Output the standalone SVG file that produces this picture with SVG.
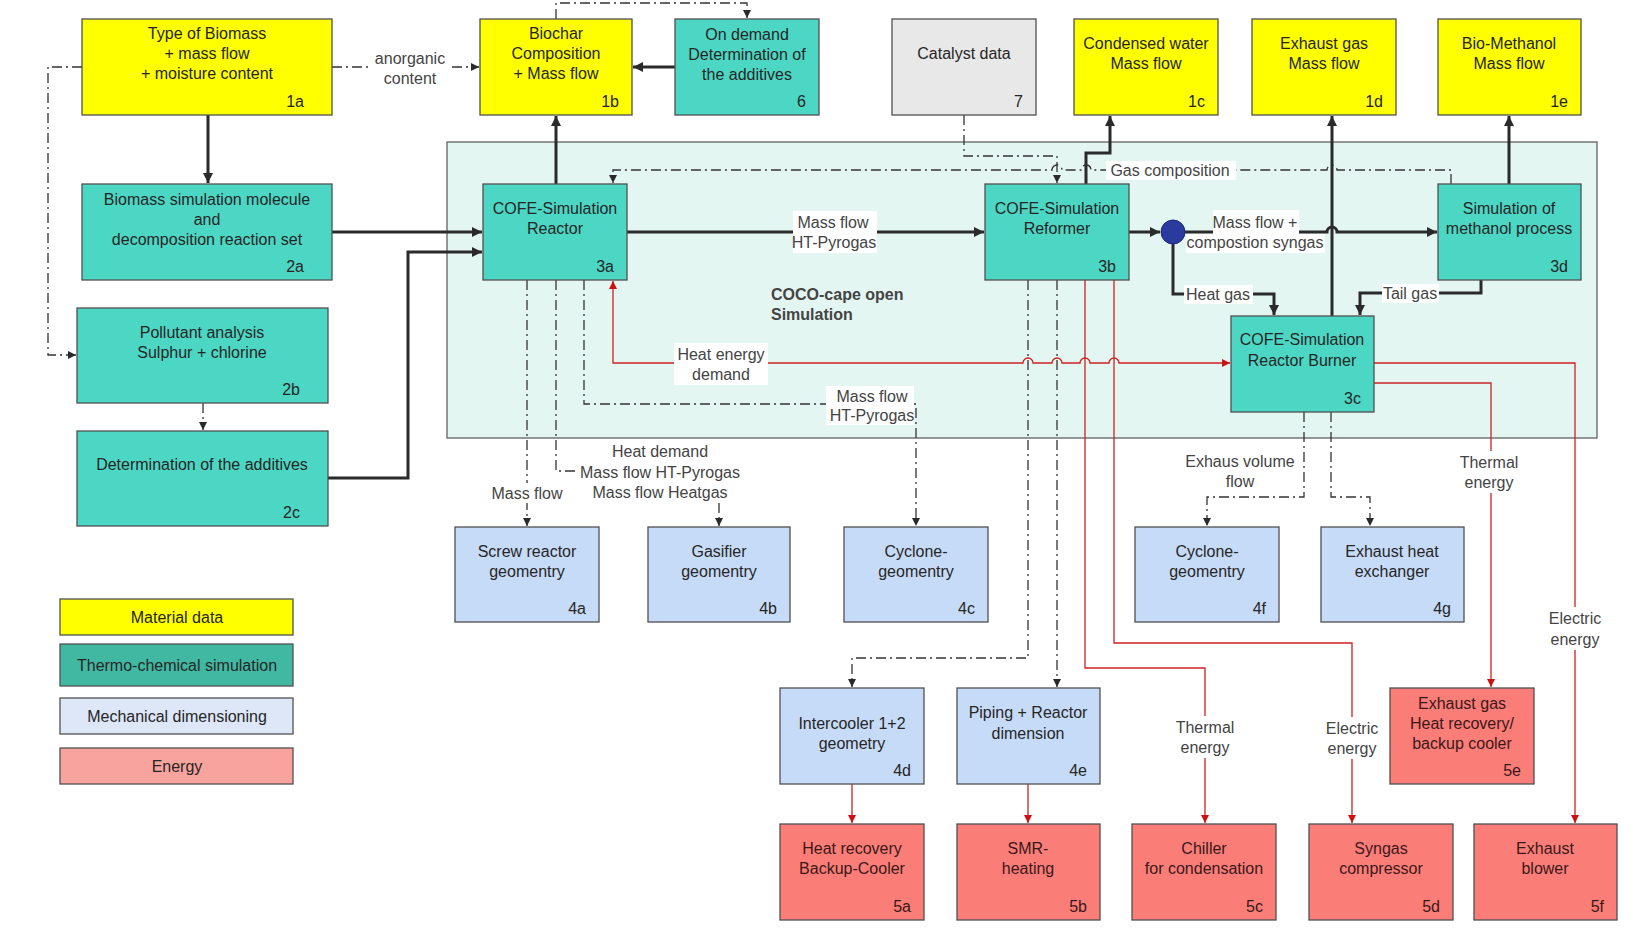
<svg xmlns="http://www.w3.org/2000/svg" width="1650" height="951" viewBox="0 0 1650 951">
<defs>
<style>
.n rect{stroke:#505050;stroke-width:1.3}
.y{fill:#ffff00}.t{fill:#4cd6c4}.b{fill:#c6dbf7}.r{fill:#fa7d78}.g{fill:#e8e8e8}
text{font-family:"Liberation Sans",Arial,sans-serif;font-size:16px}
.n text{fill:#262626;text-anchor:middle}
.n text.num{text-anchor:end}
.rn text{fill:#3a1818}
.lb text{fill:#444;text-anchor:middle}
.lb rect{fill:#fff}
.th{fill:none;stroke:#2a2a2a;stroke-width:3}
.dd{fill:none;stroke:#333;stroke-width:1.3;stroke-dasharray:10 4 2 4}
.rd{fill:none;stroke:#cc2222;stroke-width:1.3}
</style>
<marker id="at" viewBox="0 0 10 10" refX="10" refY="5" markerWidth="11" markerHeight="10" markerUnits="userSpaceOnUse" orient="auto"><path d="M0,0 L10,5 L0,10 z" fill="#2a2a2a"/></marker>
<marker id="ad" viewBox="0 0 10 10" refX="10" refY="5" markerWidth="8" markerHeight="8" markerUnits="userSpaceOnUse" orient="auto"><path d="M0,0 L10,5 L0,10 z" fill="#2a2a2a"/></marker>
<marker id="ar" viewBox="0 0 10 10" refX="10" refY="5" markerWidth="9" markerHeight="8" markerUnits="userSpaceOnUse" orient="auto-start-reverse"><path d="M0,0 L10,5 L0,10 z" fill="#cc1111"/></marker>
</defs>
<rect x="0" y="0" width="1650" height="951" fill="#fff"/>
<g id="container">
<rect x="447" y="142" width="1150" height="296" fill="#e4f6f2" stroke="#555" stroke-width="1.2"/>
<text x="771" y="300" font-weight="bold" fill="#444">COCO-cape open</text>
<text x="771" y="320" font-weight="bold" fill="#444">Simulation</text>
</g>
<g id="connectors">
<path class="th" d="M208,115 V183" marker-end="url(#at)"/>
<path class="th" d="M332,232 H482" marker-end="url(#at)"/>
<path class="th" d="M328,478 H408 V252 H482" marker-end="url(#at)"/>
<path class="th" d="M556,184 V116" marker-end="url(#at)"/>
<path class="th" d="M675,67 H633" marker-end="url(#at)"/>
<path class="th" d="M627,232 H984" marker-end="url(#at)"/>
<path class="th" d="M1129,232 H1160" marker-end="url(#at)"/>
<path class="th" d="M1185,232 H1327 A5,5 0 0 1 1337,232 H1437" marker-end="url(#at)"/>
<path class="th" d="M1086,184 V153 H1110 V116" marker-end="url(#at)"/>
<path class="th" d="M1332,316 V116" marker-end="url(#at)"/>
<path class="th" d="M1509,184 V116" marker-end="url(#at)"/>
<path class="th" d="M1173,244 V294 H1274 V315" marker-end="url(#at)"/>
<path class="th" d="M1481,280 V293 H1360 V315" marker-end="url(#at)"/>
<path class="dd" d="M332,67 H479" marker-end="url(#ad)"/>
<path class="dd" d="M556,19 V3 H747 V18" marker-end="url(#ad)"/>
<path class="dd" d="M82,67 H48 V355 H76" marker-end="url(#ad)"/>
<path class="dd" d="M203,403 V430" marker-end="url(#ad)"/>
<path class="dd" d="M964,115 V156 H1057 V183" marker-end="url(#ad)"/>
<path class="dd" d="M1451,184 V170 H1337 A5,5 0 0 0 1327,170 H1091 A5,5 0 0 0 1081,170 H1062 A5,5 0 0 0 1052,170 H613 V183" marker-end="url(#ad)"/>
<path class="dd" d="M527,280 V526" marker-end="url(#ad)"/>
<path class="dd" d="M556,280 V471 H576"/>
<path class="dd" d="M719,503 V526" marker-end="url(#ad)"/>
<path class="dd" d="M584,280 V404 H916 V526" marker-end="url(#ad)"/>
<path class="dd" d="M1028,280 V658 H852 V687" marker-end="url(#ad)"/>
<path class="dd" d="M1057,280 V687" marker-end="url(#ad)"/>
<path class="dd" d="M1304,412 V497 H1207 V526" marker-end="url(#ad)"/>
<path class="dd" d="M1331,412 V497 H1370 V526" marker-end="url(#ad)"/>
<path class="rd" d="M613,281 V363 H1023 A5,5 0 0 1 1033,363 H1052 A5,5 0 0 1 1062,363 H1080 A5,5 0 0 1 1090,363 H1109 A5,5 0 0 1 1119,363 H1230" marker-start="url(#ar)" marker-end="url(#ar)"/>
<path class="rd" d="M1085,280 V668 H1205 V823" marker-end="url(#ar)"/>
<path class="rd" d="M1114,280 V643 H1352 V823" marker-end="url(#ar)"/>
<path class="rd" d="M1374,383 H1491 V687" marker-end="url(#ar)"/>
<path class="rd" d="M1374,363 H1575 V823" marker-end="url(#ar)"/>
<path class="rd" d="M852,784 V823" marker-end="url(#ar)"/>
<path class="rd" d="M1028,784 V823" marker-end="url(#ar)"/>
<circle cx="1173" cy="232" r="12" fill="#2b3a9e" stroke="#1c2675" stroke-width="1"/>
</g>
<g id="labels" class="lb">
<rect x="372" y="47" width="76" height="42"/>
<text x="410" y="64">anorganic</text><text x="410" y="84">content</text>
<rect x="793" y="211" width="84" height="42"/>
<text x="833" y="228">Mass flow</text><text x="834" y="248">HT-Pyrogas</text>
<rect x="1213" y="210" width="86" height="24"/><rect x="1186" y="234" width="139" height="19"/>
<text x="1255" y="228">Mass flow +</text><text x="1255" y="248">compostion syngas</text>
<rect x="1106" y="161" width="130" height="19"/>
<text x="1170" y="176">Gas composition</text>
<rect x="1184" y="285" width="69" height="19"/>
<text x="1218" y="300">Heat gas</text>
<rect x="1382" y="284" width="57" height="19"/>
<text x="1410" y="299">Tail gas</text>
<rect x="674" y="343" width="94" height="42"/>
<text x="721" y="360">Heat energy</text><text x="721" y="380">demand</text>
<rect x="826" y="386" width="88" height="39"/>
<text x="872" y="402">Mass flow</text><text x="872" y="421">HT-Pyrogas</text>
<text x="660" y="457">Heat demand</text><text x="660" y="478">Mass flow HT-Pyrogas</text><text x="660" y="498">Mass flow Heatgas</text>
<rect x="489" y="483" width="77" height="20"/>
<text x="527" y="499">Mass flow</text>
<text x="1240" y="467">Exhaus volume</text><text x="1240" y="487">flow</text>
<rect x="1457" y="451" width="64" height="42"/>
<text x="1489" y="468">Thermal</text><text x="1489" y="488">energy</text>
<rect x="1546" y="607" width="59" height="43"/>
<text x="1575" y="624">Electric</text><text x="1575" y="645">energy</text>
<rect x="1174" y="716" width="62" height="42"/>
<text x="1205" y="733">Thermal</text><text x="1205" y="753">energy</text>
<rect x="1323" y="717" width="58" height="42"/>
<text x="1352" y="734">Electric</text><text x="1352" y="754">energy</text>
</g>
<g id="n1a" class="n"><rect class="y" x="82" y="19" width="250" height="96"/><text x="207" y="39">Type of Biomass</text><text x="207" y="59">+ mass flow</text><text x="207" y="79">+ moisture content</text><text class="num" x="304" y="107">1a</text></g>
<g id="n1b" class="n"><rect class="y" x="480" y="19" width="152" height="96"/><text x="556" y="39">Biochar</text><text x="556" y="59">Composition</text><text x="556" y="79">+ Mass flow</text><text class="num" x="619" y="107">1b</text></g>
<g id="n6" class="n"><rect class="t" x="675" y="19" width="144" height="96"/><text x="747" y="40">On demand</text><text x="747" y="60">Determination of</text><text x="747" y="80">the additives</text><text class="num" x="806" y="107">6</text></g>
<g id="n7" class="n"><rect class="g" x="892" y="19" width="144" height="96"/><text x="964" y="59">Catalyst data</text><text class="num" x="1023" y="107">7</text></g>
<g id="n1c" class="n"><rect class="y" x="1074" y="19" width="144" height="96"/><text x="1146" y="49">Condensed water</text><text x="1146" y="69">Mass flow</text><text class="num" x="1205" y="107">1c</text></g>
<g id="n1d" class="n"><rect class="y" x="1252" y="19" width="144" height="96"/><text x="1324" y="49">Exhaust gas</text><text x="1324" y="69">Mass flow</text><text class="num" x="1383" y="107">1d</text></g>
<g id="n1e" class="n"><rect class="y" x="1438" y="19" width="143" height="96"/><text x="1509" y="49">Bio-Methanol</text><text x="1509" y="69">Mass flow</text><text class="num" x="1568" y="107">1e</text></g>
<g id="n2a" class="n"><rect class="t" x="82" y="184" width="250" height="96"/><text x="207" y="205">Biomass simulation molecule</text><text x="207" y="225">and</text><text x="207" y="245">decomposition reaction set</text><text class="num" x="304" y="272">2a</text></g>
<g id="n3a" class="n"><rect class="t" x="483" y="184" width="144" height="96"/><text x="555" y="214">COFE-Simulation</text><text x="555" y="234">Reactor</text><text class="num" x="614" y="272">3a</text></g>
<g id="n3b" class="n"><rect class="t" x="985" y="184" width="144" height="96"/><text x="1057" y="214">COFE-Simulation</text><text x="1057" y="234">Reformer</text><text class="num" x="1116" y="272">3b</text></g>
<g id="n3d" class="n"><rect class="t" x="1438" y="184" width="143" height="96"/><text x="1509" y="214">Simulation of</text><text x="1509" y="234">methanol process</text><text class="num" x="1568" y="272">3d</text></g>
<g id="n3c" class="n"><rect class="t" x="1231" y="316" width="143" height="96"/><text x="1302" y="345">COFE-Simulation</text><text x="1302" y="366">Reactor Burner</text><text class="num" x="1361" y="404">3c</text></g>
<g id="n2b" class="n"><rect class="t" x="77" y="308" width="251" height="95"/><text x="202" y="338">Pollutant analysis</text><text x="202" y="358">Sulphur + chlorine</text><text class="num" x="300" y="395">2b</text></g>
<g id="n2c" class="n"><rect class="t" x="77" y="431" width="251" height="95"/><text x="202" y="470">Determination of the additives</text><text class="num" x="300" y="518">2c</text></g>
<g id="n4a" class="n"><rect class="b" x="455" y="527" width="144" height="95"/><text x="527" y="557">Screw reactor</text><text x="527" y="577">geomentry</text><text class="num" x="586" y="614">4a</text></g>
<g id="n4b" class="n"><rect class="b" x="648" y="527" width="142" height="95"/><text x="719" y="557">Gasifier</text><text x="719" y="577">geomentry</text><text class="num" x="777" y="614">4b</text></g>
<g id="n4c" class="n"><rect class="b" x="844" y="527" width="144" height="95"/><text x="916" y="557">Cyclone-</text><text x="916" y="577">geomentry</text><text class="num" x="975" y="614">4c</text></g>
<g id="n4f" class="n"><rect class="b" x="1135" y="527" width="144" height="95"/><text x="1207" y="557">Cyclone-</text><text x="1207" y="577">geomentry</text><text class="num" x="1266" y="614">4f</text></g>
<g id="n4g" class="n"><rect class="b" x="1321" y="527" width="143" height="95"/><text x="1392" y="557">Exhaust heat</text><text x="1392" y="577">exchanger</text><text class="num" x="1451" y="614">4g</text></g>
<g id="n4d" class="n"><rect class="b" x="780" y="688" width="144" height="96"/><text x="852" y="729">Intercooler 1+2</text><text x="852" y="749">geometry</text><text class="num" x="911" y="776">4d</text></g>
<g id="n4e" class="n"><rect class="b" x="957" y="688" width="143" height="96"/><text x="1028" y="718">Piping + Reactor</text><text x="1028" y="739">dimension</text><text class="num" x="1087" y="776">4e</text></g>
<g id="n5e" class="n rn"><rect class="r" x="1390" y="688" width="144" height="96"/><text x="1462" y="709">Exhaust gas</text><text x="1462" y="729">Heat recovery/</text><text x="1462" y="749">backup cooler</text><text class="num" x="1521" y="776">5e</text></g>
<g id="n5a" class="n rn"><rect class="r" x="780" y="824" width="144" height="96"/><text x="852" y="854">Heat recovery</text><text x="852" y="874">Backup-Cooler</text><text class="num" x="911" y="912">5a</text></g>
<g id="n5b" class="n rn"><rect class="r" x="957" y="824" width="143" height="96"/><text x="1028" y="854">SMR-</text><text x="1028" y="874">heating</text><text class="num" x="1087" y="912">5b</text></g>
<g id="n5c" class="n rn"><rect class="r" x="1132" y="824" width="144" height="96"/><text x="1204" y="854">Chiller</text><text x="1204" y="874">for condensation</text><text class="num" x="1263" y="912">5c</text></g>
<g id="n5d" class="n rn"><rect class="r" x="1309" y="824" width="144" height="96"/><text x="1381" y="854">Syngas</text><text x="1381" y="874">compressor</text><text class="num" x="1440" y="912">5d</text></g>
<g id="n5f" class="n rn"><rect class="r" x="1474" y="824" width="143" height="96"/><text x="1545" y="854">Exhaust</text><text x="1545" y="874">blower</text><text class="num" x="1604" y="912">5f</text></g>
<g id="legend" class="n">
<rect x="60" y="599" width="233" height="36" fill="#ffff00"/><text x="177" y="623">Material data</text>
<rect x="60" y="644" width="233" height="42" fill="#40b8a2"/><text x="177" y="671">Thermo-chemical simulation</text>
<rect x="60" y="698" width="233" height="36" fill="#dde7f8"/><text x="177" y="722">Mechanical dimensioning</text>
<rect x="60" y="748" width="233" height="36" fill="#f8a39d"/><text x="177" y="772">Energy</text>
</g>
</svg>
